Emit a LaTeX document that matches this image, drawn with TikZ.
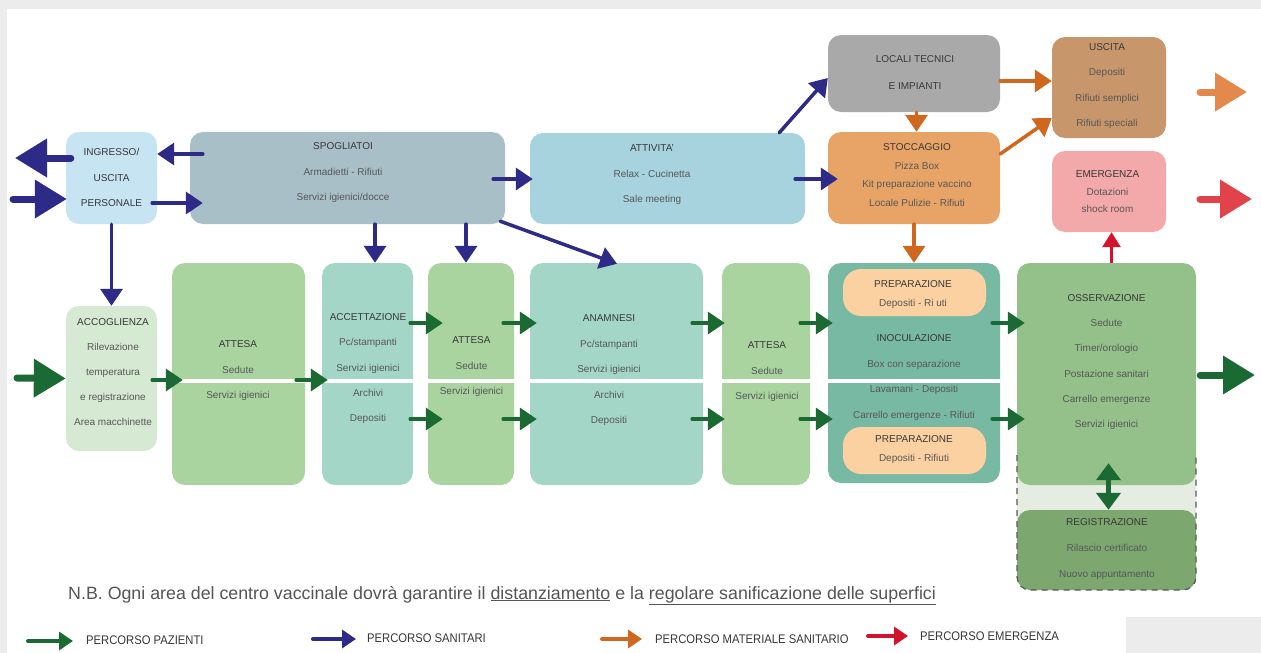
\documentclass[tikz,border=0pt]{standalone}
\usepackage{fontspec}
\setmainfont{Liberation Sans}
\usetikzlibrary{arrows.meta,calc}
\definecolor{cGrey}{HTML}{ECECEC}
\definecolor{cIng}{HTML}{C6E4F2}
\definecolor{cSpo}{HTML}{A9BFC7}
\definecolor{cAtt}{HTML}{A7D3DE}
\definecolor{cLoc}{HTML}{A9A9A9}
\definecolor{cSto}{HTML}{E8A467}
\definecolor{cUsc}{HTML}{C8966B}
\definecolor{cEme}{HTML}{F3A8AA}
\definecolor{cAcc}{HTML}{D6E9D3}
\definecolor{cWait}{HTML}{A9D4A0}
\definecolor{cTeal}{HTML}{A4D6C7}
\definecolor{cIno}{HTML}{78B9A4}
\definecolor{cPrep}{HTML}{FCD1A1}
\definecolor{cOss}{HTML}{94C089}
\definecolor{cDash}{HTML}{E5EDE3}
\definecolor{cReg}{HTML}{7CA76F}
\definecolor{cBlue}{HTML}{2E2A87}
\definecolor{cOrange}{HTML}{D0671F}
\definecolor{cOrangeL}{HTML}{E3894C}
\definecolor{cGreen}{HTML}{1C6A33}
\definecolor{cRed}{HTML}{D3132D}
\definecolor{cRedL}{HTML}{E2434B}
\definecolor{ttlc}{HTML}{383838}
\definecolor{bdc}{HTML}{575757}
\definecolor{nbc}{HTML}{555555}
\tikzset{
  box/.style={rounded corners=13pt, inner sep=0pt, draw=none},
  ttl/.style={font=\fontsize{10}{12}\selectfont, text=ttlc, inner sep=0pt, anchor=base},
  bd/.style={font=\fontsize{10}{12}\selectfont, text=bdc, inner sep=0pt, anchor=base},
  arr/.style={line width=3.5pt, line cap=round, -{Triangle[length=17pt,width=22pt]}},
  bigarr/.style={line width=7pt, line cap=round, -{Triangle[length=32pt,width=37pt]}},
  legarr/.style={line width=4pt, line cap=round, -{Triangle[length=14pt,width=18pt]}},
  legtxt/.style={font=\fontsize{12.5}{14}\selectfont, text=ttlc, inner sep=0pt, anchor=west},
}
% #1 name, #2 x, #3 first baseline, #4 step, #5 first line, #6 other lines, #7 style of other lines
\newcommand\btxt[7]{%
  \node[ttl] (#1-t) at (#2,#3) {#5};
  \foreach \l [count=\i] in {#6} {\node[#7] (#1-\i) at (#2,{#3+\i*#4}) {\l};}
}
\begin{document}
\begin{tikzpicture}[x=1pt,y=-1pt]
\useasboundingbox (0,0) rectangle (1261,653);
\fill[white] (0,0) rectangle (1261,653);
\fill[cGrey] (0,0) rectangle (1261,9);
\fill[cGrey] (0,0) rectangle (7,653);
\fill[cGrey] (1126,617) rectangle (1261,653);

% ---------- upper row ----------
\node[box, fill=cIng, minimum width=91pt, minimum height=92pt] (ing) at (111.5,178) {};
\node[box, fill=cSpo, minimum width=315pt, minimum height=92pt] (spo) at (347.5,178) {};
\node[box, fill=cAtt, minimum width=275pt, minimum height=91pt] (att) at (667.5,178.5) {};
\node[box, fill=cLoc, minimum width=172pt, minimum height=77pt] (loc) at (914,73.5) {};
\node[box, fill=cSto, minimum width=172pt, minimum height=92pt] (sto) at (914,178) {};
\node[box, fill=cUsc, minimum width=114pt, minimum height=101pt] (usc) at (1109,87.5) {};
\node[box, fill=cEme, minimum width=114pt, minimum height=81pt] (eme) at (1109,191.5) {};

% ---------- lower row ----------
\node[box, fill=cAcc, minimum width=91pt, minimum height=145pt] (acc) at (111.5,378.5) {};
\node[box, fill=cWait, minimum width=133pt, minimum height=222pt] (at1) at (238.5,374) {};
\node[box, fill=cTeal, minimum width=91pt, minimum height=222pt] (acz) at (367.5,374) {};
\node[box, fill=cWait, minimum width=86pt, minimum height=222pt] (at2) at (471,374) {};
\node[box, fill=cTeal, minimum width=173pt, minimum height=222pt] (ana) at (616.5,374) {};
\node[box, fill=cWait, minimum width=88pt, minimum height=222pt] (at3) at (766,374) {};
\node[box, fill=cIno, minimum width=172pt, minimum height=220pt] (ino) at (914,373) {};
\fill[cDash, rounded corners=13pt] (1017,455) rectangle (1196,590);
\node[box, fill=cOss, minimum width=179pt, minimum height=222pt] (oss) at (1106.5,374) {};
\node[box, fill=cReg, minimum width=179pt, minimum height=80pt] (reg) at (1106.5,550) {};
\draw[black!65, line width=1.2pt, dash pattern=on 6pt off 5pt, rounded corners=13pt]
  (1017,455) -- (1017,590) -- (1196,590) -- (1196,455);
\fill[white] (172,378.5) rectangle (1000,383);
\node[box, fill=cPrep, rounded corners=18pt, minimum width=143pt, minimum height=47pt] (pr1) at (914.5,292.5) {};
\node[box, fill=cPrep, rounded corners=18pt, minimum width=143pt, minimum height=47pt] (pr2) at (914.5,450.5) {};

% ---------- texts ----------
\btxt{ingt}{111.5}{155.5}{25.5}{INGRESSO/}{USCITA,PERSONALE}{ttl}
\btxt{spot}{343}{149.5}{25.5}{SPOGLIATOI}{Armadietti - Rifiuti,Servizi igienici/docce}{bd}
\btxt{attt}{652}{151.5}{25.5}{ATTIVITA'}{Relax - Cucinetta,Sale meeting}{bd}
\btxt{loct}{915}{62.5}{27}{LOCALI TECNICI}{E IMPIANTI}{ttl}
\btxt{stot}{917}{150.5}{18.7}{STOCCAGGIO}{Pizza Box,Kit preparazione vaccino,Locale Pulizie - Rifiuti}{bd}
\btxt{usct}{1107}{50.5}{25.3}{USCITA}{Depositi,Rifiuti semplici,Rifiuti speciali}{bd}
\btxt{emet}{1107.5}{177.5}{17.5}{EMERGENZA}{Dotazioni,shock room}{bd}
\btxt{acct}{113}{325.5}{25}{ACCOGLIENZA}{Rilevazione,temperatura,e registrazione,Area macchinette}{bd}
\btxt{at1t}{238}{347.5}{25.5}{ATTESA}{Sedute,Servizi igienici}{bd}
\btxt{aczt}{368}{320.5}{25.25}{ACCETTAZIONE}{Pc/stampanti,Servizi igienici,Archivi,Depositi}{bd}
\btxt{at2t}{471.5}{343.5}{25.5}{ATTESA}{Sedute,Servizi igienici}{bd}
\btxt{anat}{609}{321.5}{25.5}{ANAMNESI}{Pc/stampanti,Servizi igienici,Archivi,Depositi}{bd}
\btxt{at3t}{767}{348.5}{25.5}{ATTESA}{Sedute,Servizi igienici}{bd}
\btxt{pr1t}{913}{287.5}{19}{PREPARAZIONE}{Depositi - Ri uti}{bd}
\btxt{inot}{914}{341.5}{25.7}{INOCULAZIONE}{Box con separazione,Lavamani - Depositi,Carrello emergenze - Rifiuti}{bd}
\btxt{pr2t}{914}{442.5}{19}{PREPARAZIONE}{Depositi - Rifiuti}{bd}
\btxt{osst}{1106.5}{301.5}{25.2}{OSSERVAZIONE}{Sedute,Timer/orologio,Postazione sanitari,Carrello emergenze,Servizi igienici}{bd}
\btxt{regt}{1107}{525.5}{26}{REGISTRAZIONE}{Rilascio certificato,Nuovo appuntamento}{bd}

% ---------- free end points ----------
\coordinate (outL) at (15,158);
\coordinate (inL) at (13,199);
\coordinate (gin) at (17,378);
\coordinate (gout) at (1255,375);
\coordinate (oa1) at (1200,92);
\coordinate (oa2) at (1247,92);
\coordinate (ra1) at (1200,199);
\coordinate (ra2) at (1252,199);
\coordinate (r1) at (0,323);
\coordinate (r2) at (0,419);
\coordinate (rm) at (0,380);

% ---------- blue ----------
\begin{scope}[draw=cBlue, color=cBlue]
\draw[bigarr] ($(ing.west)+(5,-20)$) -- (outL);
\draw[bigarr] (inL) -- ($(ing.west)+(1,21)$);
\draw[arr] ($(spo.west)+(13,-24)$) -- ($(ing.east)+(0,-24)$);
\draw[arr] ($(ing.east)+(-5,25)$) -- ($(spo.west)+(13,25)$);
\draw[arr] (ing.south) -- (acc.north);
\draw[arr] ($(spo.south)+(27.5,0)$) -- ($(acz.north)+(7.5,0)$);
\draw[arr] ($(spo.south)+(118.5,0)$) -- ($(at2.north)+(-5,0)$);
\draw[arr] ($(spo.south east)+(-5,-3)$) -- ($(ana.north)+(0.5,1)$);
\draw[arr] ($(spo.east)+(-12,1)$) -- ($(att.west)+(3,0.5)$);
\draw[arr] ($(att.east)+(-10,0.5)$) -- ($(sto.west)+(10,1)$);
\draw[arr] ($(att.north east)+(-26,0)$) -- ($(loc.west)+(0,4.5)$);
\end{scope}

% ---------- orange ----------
\begin{scope}[draw=cOrange, color=cOrange]
\draw[arr] ($(loc.south)+(2.5,0)$) -- ($(sto.north)+(2.5,0)$);
\draw[arr] ($(loc.east)+(0,7.5)$) -- ($(usc.west)+(0,-6.5)$);
\draw[arr] ($(sto.east)+(0,-24)$) -- ($(usc.west)+(0,30.5)$);
\draw[arr] (sto.south) -- (ino.north);
\end{scope}
\draw[bigarr, draw=cOrangeL, color=cOrangeL] (oa1) -- (oa2);

% ---------- red ----------
\draw[bigarr, draw=cRedL, color=cRedL] (ra1) -- (ra2);
\draw[line width=3pt, draw=cRed, color=cRed, -{Triangle[length=15pt,width=18pt]}]
  ($(oss.north)+(5,0)$) -- ($(eme.south)+(2.5,0)$);

% ---------- green ----------
\begin{scope}[draw=cGreen, color=cGreen]
\draw[bigarr] (gin) -- (acc.west);
\draw[arr] ($(acc.east |- rm)+(-5,0)$) -- ($(at1.west |- rm)+(11,0)$);
\draw[arr] ($(at1.east |- rm)+(-9,0)$) -- ($(acz.west |- rm)+(6,0)$);
\foreach \r in {r1,r2} {
  \draw[arr] ($(acz.east |- \r)+(-3,0)$) -- ($(at2.west |- \r)+(15,0)$);
  \draw[arr] ($(at2.east |- \r)+(-11,0)$) -- ($(ana.west |- \r)+(7,0)$);
  \draw[arr] ($(ana.east |- \r)+(-11,0)$) -- ($(at3.west |- \r)+(3,0)$);
  \draw[arr] ($(at3.east |- \r)+(-10,0)$) -- ($(ino.west |- \r)+(5,0)$);
  \draw[arr] ($(ino.east |- \r)+(-8,0)$) -- ($(oss.west |- \r)+(8,0)$);
}
\draw[bigarr] ($(oss.east)+(4,1)$) -- (gout);
\draw[line width=5pt, {Triangle[length=17pt,width=24pt]}-{Triangle[length=17pt,width=24pt]}]
  ($(oss.south)+(2,-22)$) -- ($(reg.north)+(2,0)$);
\end{scope}

% ---------- note ----------
\node[font=\fontsize{17.8}{20}\selectfont, text=nbc, inner sep=0pt, anchor=base west] (nb) at (68,599)
  {N.B. Ogni area del centro vaccinale dovrà garantire il \underline{distanziamento} e la \underline{regolare sanificazione delle superfici}};

% ---------- legend ----------
\coordinate (lg1a) at (28,641); \coordinate (lg1b) at (73,641);
\coordinate (lg2a) at (313,639); \coordinate (lg2b) at (356,639);
\coordinate (lg3a) at (602,639); \coordinate (lg3b) at (642,639);
\coordinate (lg4a) at (868,636); \coordinate (lg4b) at (908,636);
\draw[legarr, draw=cGreen, color=cGreen] (lg1a) -- (lg1b);
\draw[legarr, draw=cBlue, color=cBlue] (lg2a) -- (lg2b);
\draw[legarr, draw=cOrange, color=cOrange] (lg3a) -- (lg3b);
\draw[legarr, draw=cRed, color=cRed] (lg4a) -- (lg4b);
\node[legtxt] (lt1) at (86,640) {\scalebox{0.9}[1]{PERCORSO PAZIENTI}};
\node[legtxt] (lt2) at (367,638) {\scalebox{0.9}[1]{PERCORSO SANITARI}};
\node[legtxt] (lt3) at (655,639) {\scalebox{0.9}[1]{PERCORSO MATERIALE SANITARIO}};
\node[legtxt] (lt4) at (920,636) {\scalebox{0.9}[1]{PERCORSO EMERGENZA}};
\end{tikzpicture}
\end{document}
